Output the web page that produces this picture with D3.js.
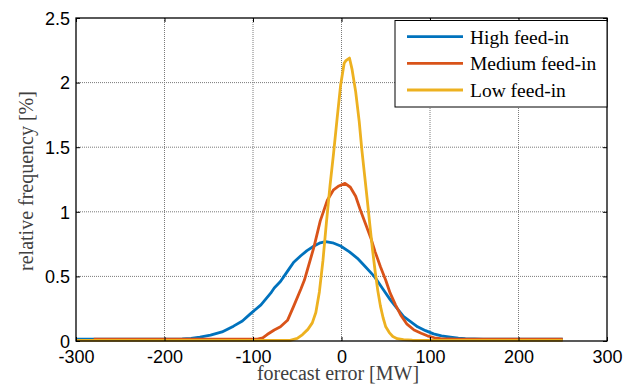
<!DOCTYPE html>
<html><head><meta charset="utf-8">
<script src="https://cdn.jsdelivr.net/npm/d3@7"></script>
<style>body{margin:0;background:#fff}svg{display:block}</style>
</head><body>
<svg id="c" width="633" height="386"></svg>
<script>
const xTicks = [-300,-200,-100,0,100,200,300];
const xTickLabels = ["-300","-200","-100","0","100","200","300"];
const yTicks = [0,0.5,1,1.5,2,2.5];
const yTickLabels = ["0","0.5","1","1.5","2","2.5"];
const seriesNames = ["High feed-in","Medium feed-in","Low feed-in"];
const seriesColors = ["#0072BD","#D95319","#EDB120"];

const highX = [-300,-280,-260,-240,-220,-200,-180,-170,-160,-148,-135,-122,-112,-103,-91,-80,-76,-69,-65,-59,-54,-46,-39,-31,-24,-18,-10,-1,9,18,27,37,46,55,63,70,78,86,95,104,113,123,132,140,160,180,200,220,250];
const highY = [0.015,0.015,0.015,0.015,0.015,0.015,0.016,0.02,0.03,0.045,0.07,0.115,0.155,0.21,0.28,0.37,0.41,0.46,0.50,0.56,0.61,0.66,0.70,0.735,0.76,0.77,0.76,0.735,0.69,0.64,0.575,0.50,0.41,0.32,0.25,0.19,0.15,0.11,0.08,0.055,0.04,0.03,0.022,0.018,0.015,0.015,0.015,0.015,0.015];

const medX = [-280,-250,-200,-150,-120,-95,-89,-84,-76,-69,-61,-54,-46,-42,-39,-31,-24,-16,-9,-3,4,10,16,21,27,33,38,44,50,55,61,67,74,82,90,97,105,112,130,160,200,250];
const medY = [0.015,0.015,0.015,0.015,0.015,0.015,0.025,0.05,0.085,0.11,0.16,0.27,0.40,0.47,0.54,0.73,0.93,1.09,1.17,1.20,1.22,1.19,1.12,1.02,0.91,0.80,0.69,0.575,0.47,0.37,0.28,0.20,0.13,0.085,0.06,0.04,0.025,0.018,0.015,0.015,0.015,0.015];

const lowX = [-300,-250,-200,-150,-100,-58,-50,-44,-38,-33,-29,-25,-21,-17,-13,-9,-5,-1,3,5,9,12,16,20,23,26,29,32,35,38,41,44,47,50,54,58,63,70,80,120,160,200,250];
const lowY = [0.005,0.005,0.005,0.005,0.005,0.005,0.02,0.05,0.09,0.14,0.22,0.38,0.62,0.92,1.20,1.45,1.72,1.98,2.15,2.17,2.19,2.10,1.93,1.70,1.48,1.29,1.10,0.90,0.71,0.54,0.39,0.27,0.18,0.11,0.065,0.035,0.018,0.01,0.006,0.005,0.005,0.005,0.005];

const seriesX = [highX, medX, lowX];
const seriesY = [highY, medY, lowY];

const L = 76, R = 607, T = 18, B = 341;
const svg = d3.select("#c");
const x = d3.scaleLinear().domain([-300,300]).range([L,R]);
const y = d3.scaleLinear().domain([0,2.5]).range([B,T]);

// grid
const g = svg.append("g");
g.selectAll(".vg").data(xTicks.slice(1,-1)).enter().append("line")
  .attr("x1",d=>x(d)).attr("x2",d=>x(d)).attr("y1",T).attr("y2",B)
  .attr("stroke","#7a7a7a").attr("stroke-width",1).attr("stroke-dasharray","1,1");
g.selectAll(".hg").data(yTicks.slice(1,-1)).enter().append("line")
  .attr("y1",d=>y(d)).attr("y2",d=>y(d)).attr("x1",L).attr("x2",R)
  .attr("stroke","#7a7a7a").attr("stroke-width",1).attr("stroke-dasharray","1,1");

// lines
const line = d3.line().x(d=>x(d[0])).y(d=>y(d[1]));
seriesX.forEach((xs,i)=>{
  const pts = xs.map((v,j)=>[v, seriesY[i][j]]);
  svg.append("path").datum(pts).attr("d",line).attr("fill","none")
    .attr("stroke",seriesColors[i]).attr("stroke-width",2.8).attr("stroke-linejoin","round");
});

// axes
const fontSans = "'Liberation Sans', Arial, sans-serif";
const xAxis = d3.axisBottom(x).tickValues(xTicks).tickSize(-4).tickPadding(10).tickFormat((d,i)=>xTickLabels[i]);
const gx = svg.append("g").attr("transform",`translate(0,${B})`).call(xAxis);
const yAxis = d3.axisLeft(y).tickValues(yTicks).tickSize(-4).tickPadding(6).tickFormat((d,i)=>yTickLabels[i]);
const gy = svg.append("g").attr("transform",`translate(${L},0)`).call(yAxis);
const xTop = d3.axisTop(x).tickValues(xTicks).tickSize(-4).tickFormat("");
const gxt = svg.append("g").attr("transform",`translate(0,${T})`).call(xTop);
const yRight = d3.axisRight(y).tickValues(yTicks).tickSize(-4).tickFormat("");
const gyr = svg.append("g").attr("transform",`translate(${R},0)`).call(yRight);
[gx,gy,gxt,gyr].forEach(a=>{
  a.select(".domain").remove();
  a.selectAll(".tick line").attr("stroke","#000");
  a.selectAll("text").attr("font-family",fontSans).attr("font-size","18px").attr("fill","#000");
});
gx.selectAll("text").attr("dy","0.68em");
gy.selectAll("text").attr("dy","0.35em");

// box
svg.append("rect").attr("x",L).attr("y",T).attr("width",R-L).attr("height",B-T)
  .attr("fill","none").attr("stroke","#000").attr("stroke-width",1.3);

// axis labels
const fontSerif = "'Liberation Serif', 'Times New Roman', serif";
svg.append("text").attr("x",338).attr("y",380).attr("text-anchor","middle")
  .attr("font-family",fontSerif).attr("font-size","20px").attr("fill","#404040")
  .text("forecast error [MW]");
svg.append("text").attr("transform","translate(33,181) rotate(-90)").attr("text-anchor","middle")
  .attr("font-family",fontSerif).attr("font-size","20px").attr("fill","#404040")
  .text("relative frequency [%]");

// legend
const lg = svg.append("g");
lg.append("rect").attr("x",395).attr("y",20.5).attr("width",212).attr("height",86.5)
  .attr("fill","#fff").attr("stroke","#000").attr("stroke-width",1);
const rowY = [36.7,63.3,90];
seriesNames.forEach((n,i)=>{
  lg.append("line").attr("x1",407).attr("x2",463).attr("y1",rowY[i]).attr("y2",rowY[i])
    .attr("stroke",seriesColors[i]).attr("stroke-width",2.8);
  lg.append("text").attr("x",470).attr("y",rowY[i]+7).attr("font-family",fontSerif)
    .attr("font-size","19.5px").attr("fill","#000").text(n);
});
</script>
</body></html>
